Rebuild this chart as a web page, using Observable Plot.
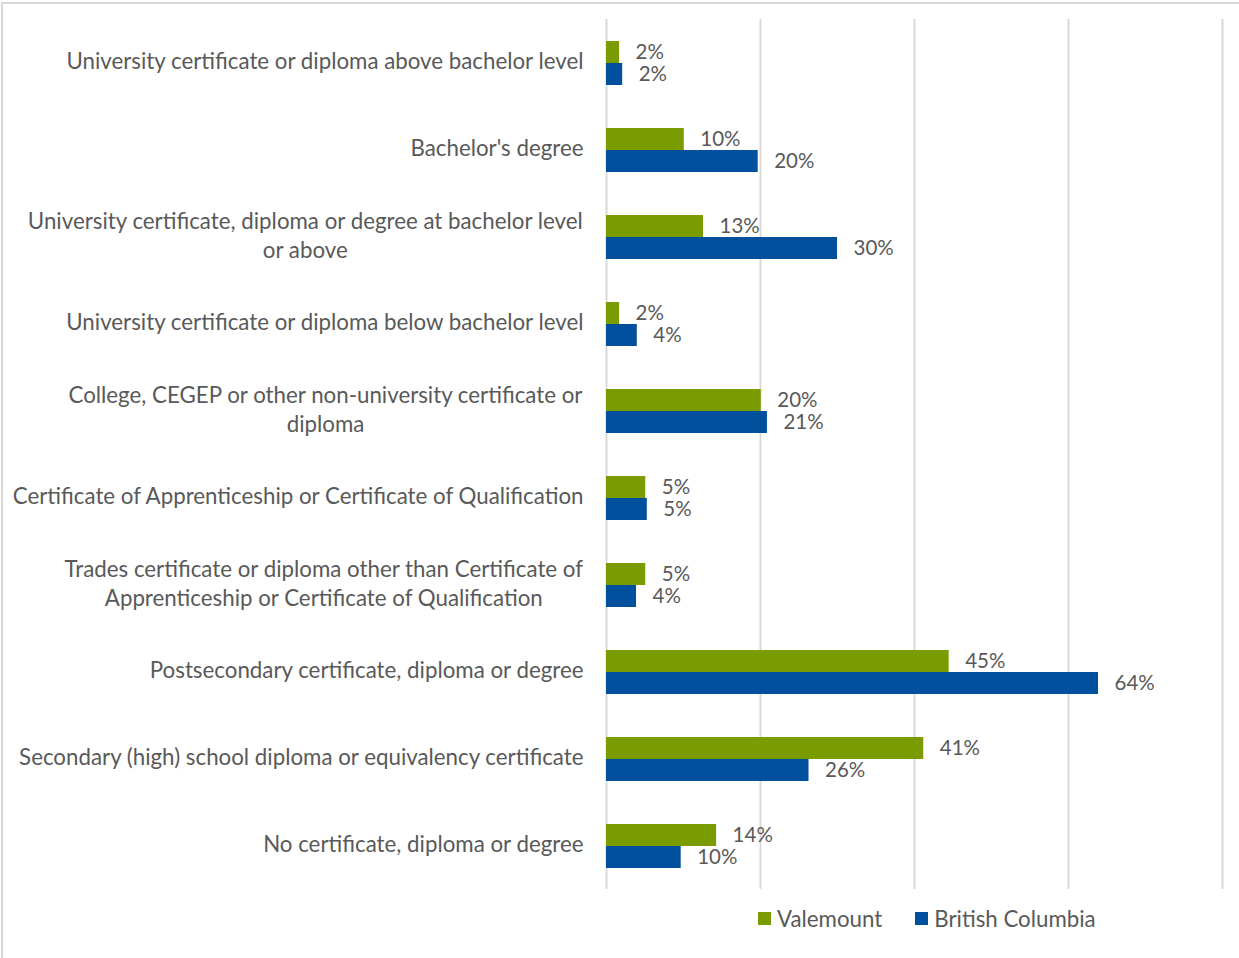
<!DOCTYPE html>
<html>
<head>
<meta charset="utf-8">
<script src="https://cdn.jsdelivr.net/npm/d3@7"></script>
<script src="https://cdn.jsdelivr.net/npm/@observablehq/plot@0.6"></script>
<style>
  html, body { margin: 0; padding: 0; background: #fff; }
  #wrap { position: relative; width: 1239px; height: 958px; font-family: Lato, "Open Sans", sans-serif; color: #595959; }
  #frame { position: absolute; left: 1px; top: 2px; width: 1245px; height: 960px; border-top: 2px solid #d9d9d9; border-left: 2px solid #d9d9d9; box-sizing: border-box; pointer-events: none; }
  #chart { position: absolute; left: 0; top: 0; }
  #legend { position: absolute; left: 758px; top: 905px; display: flex; gap: 33px; font-size: 22.3px; }
  .item { display: flex; align-items: center; gap: 6px; }
  .sw { width: 13px; height: 13px; display: inline-block; }
</style>
</head>
<body>
<div id="wrap">
  <div id="chart"></div>
  <div id="frame"></div>
  <div id="legend"></div>
</div>
<script>
const categories = [
  "University certificate or diploma above bachelor level",
  "Bachelor's degree",
  "University certificate, diploma or degree at bachelor level or above",
  "University certificate or diploma below bachelor level",
  "College, CEGEP or other non-university certificate or diploma",
  "Certificate of Apprenticeship or Certificate of Qualification",
  "Trades certificate or diploma other than Certificate of Apprenticeship or Certificate of Qualification",
  "Postsecondary certificate, diploma or degree",
  "Secondary (high) school diploma or equivalency certificate",
  "No certificate, diploma or degree"
];
const categoryLabels = [
  "University certificate or diploma above bachelor level",
  "Bachelor's degree",
  "University certificate, diploma or degree at bachelor level\nor above",
  "University certificate or diploma below bachelor level",
  "College, CEGEP or other non-university certificate or\ndiploma",
  "Certificate of Apprenticeship or Certificate of Qualification",
  "Trades certificate or diploma other than Certificate of\nApprenticeship or Certificate of Qualification",
  "Postsecondary certificate, diploma or degree",
  "Secondary (high) school diploma or equivalency certificate",
  "No certificate, diploma or degree"
];
const series = ["Valemount", "British Columbia"];
const valemount = [1.7, 10.1, 12.6, 1.7, 20.1, 5.1, 5.1, 44.5, 41.2, 14.3];
const britishColumbia = [2.1, 19.7, 30.0, 4.0, 20.9, 5.3, 3.9, 63.9, 26.3, 9.7];
const colors = ["#7a9c01", "#00509d"];
const xTicks = [0, 20, 40, 60, 80];

const rows = [];
categories.forEach((c, i) => {
  rows.push({category: c, series: series[0], value: valemount[i]});
  rows.push({category: c, series: series[1], value: britishColumbia[i]});
});
const fmt = v => Math.round(v) + "%";

const labelFont = 22.3;
const ctx = document.createElement("canvas").getContext("2d");
ctx.font = `${labelFont}px Lato`;
const labelMarks = categories.map((c, i) => {
  const lines = categoryLabels[i].split("\n");
  const multi = lines.length > 1;
  const w = Math.max(...lines.map(l => ctx.measureText(l).width));
  return Plot.text([{category: c, label: categoryLabels[i]}], {
    fy: "category", text: "label", frameAnchor: "left",
    textAnchor: multi ? "middle" : "end",
    dx: multi ? -23 - w / 2 : -23,
    dy: multi ? -3 : -4, lineHeight: 1.33, fill: "#595959", fontSize: labelFont
  });
});

const chart = Plot.plot({
  width: 1239,
  height: 900,
  marginLeft: 606,
  marginRight: 17,
  marginTop: 17,
  marginBottom: 10,
  style: {fontFamily: "Lato, 'Open Sans', sans-serif", fontSize: "20px", color: "#595959", background: "transparent"},
  x: {domain: [0, 80], axis: null},
  y: {domain: series, axis: null, paddingInner: 0, paddingOuter: 0.93, align: 0.5},
  fy: {domain: categories, axis: null, paddingInner: 0, paddingOuter: 0},
  color: {domain: series, range: colors},
  marks: [
    Plot.ruleX(xTicks, {stroke: "#d9d9d9", strokeWidth: 2}),
    Plot.barX(rows, {fy: "category", y: "series", x: "value", fill: "series"}),
    Plot.text(rows, {fy: "category", y: "series", x: "value", text: d => fmt(d.value), textAnchor: "start", dx: 16, dy: 0, fill: "#595959", fontSize: 20.5}),
    ...labelMarks
  ]
});
document.getElementById("chart").appendChild(chart);

const legend = document.getElementById("legend");
series.forEach((s, i) => {
  const item = document.createElement("div");
  item.className = "item";
  const sw = document.createElement("span");
  sw.className = "sw";
  sw.style.background = colors[i];
  const t = document.createElement("span");
  t.textContent = s;
  item.appendChild(sw);
  item.appendChild(t);
  legend.appendChild(item);
});
</script>
</body>
</html>
